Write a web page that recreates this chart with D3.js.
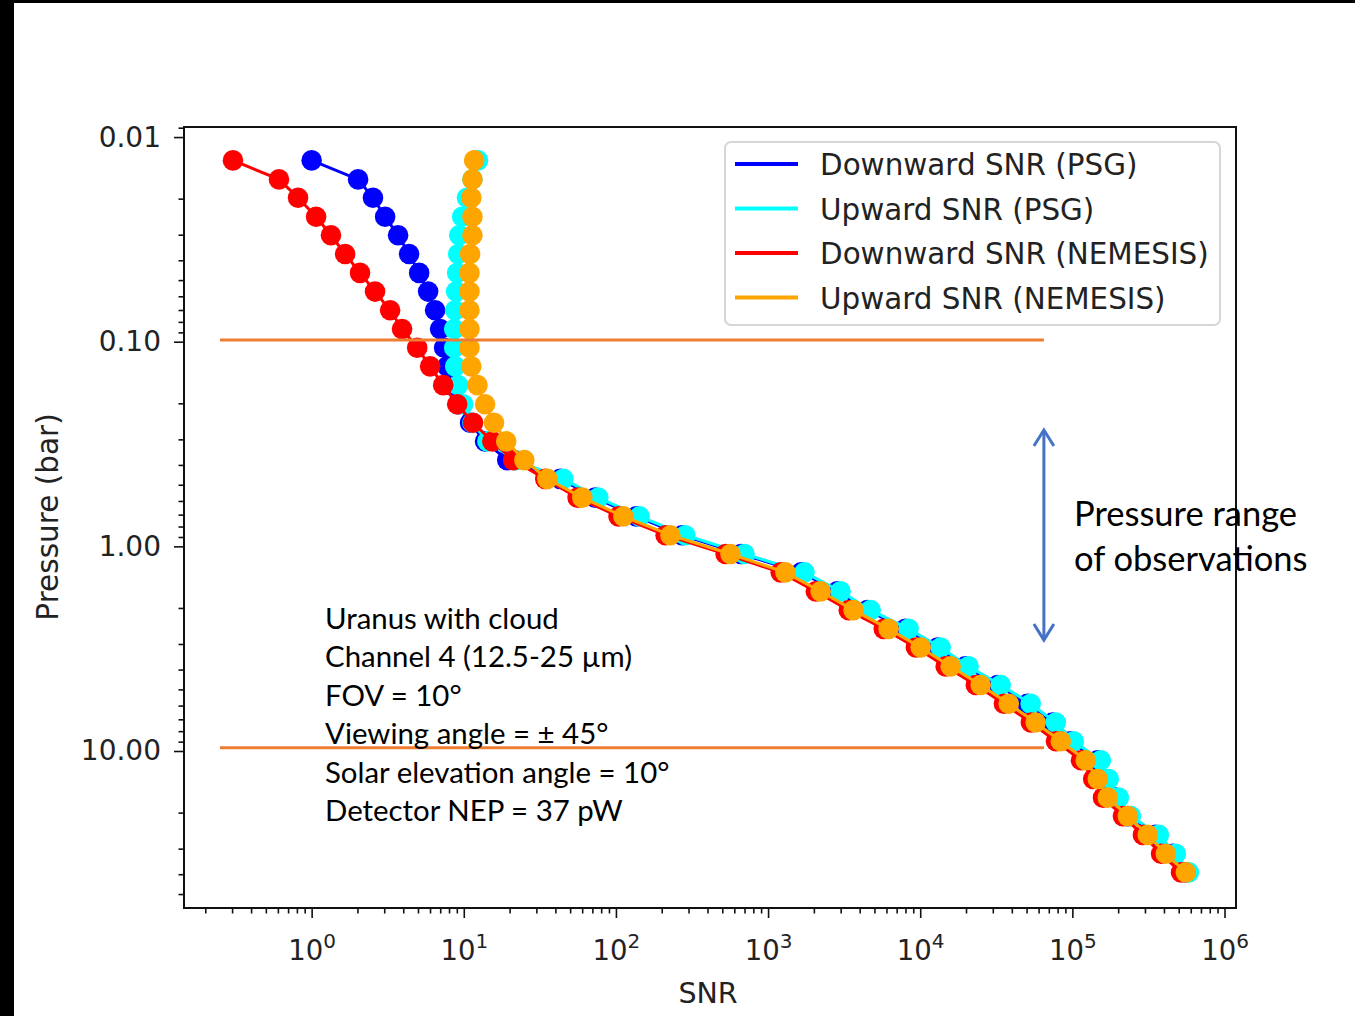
<!DOCTYPE html>
<html>
<head>
<meta charset="utf-8">
<script src="https://cdn.jsdelivr.net/npm/d3@7"></script>
<style>
  body { margin: 0; background: #fff; }
  svg { display: block; }
</style>
</head>
<body>
<svg></svg>
<script>
// Niveles de presion (bar), comunes a las cuatro curvas
var pressure = [0.0130, 0.0161, 0.0198, 0.0245, 0.0302, 0.0373, 0.0461, 0.0569, 0.0702, 0.0867,
                0.107, 0.132, 0.163, 0.202, 0.249, 0.307, 0.379, 0.468, 0.578, 0.714,
                0.882, 1.09, 1.34, 1.66, 2.05, 2.53, 3.12, 3.86, 4.76, 5.88,
                7.26, 8.96, 11.1, 13.7, 16.9, 20.8, 25.7, 31.8, 39.2];

// SNR de cada serie, un valor por nivel
var downPSG = [1.00, 2.02, 2.53, 3.04, 3.70, 4.37, 5.09, 5.83, 6.48, 6.99,
               7.43, 7.78, 8.26, 9.19, 11.0, 13.8, 19.3, 43, 73, 136,
               272, 665, 1650, 2850, 4500, 8000, 13000, 19800, 32200, 50700,
               74100, 97200, 146500, 165000, 192000, 231000, 352000, 456000, 555000];
var upPSG = [12.4, 11.4, 10.5, 9.76, 9.33, 9.19, 9.05, 8.91, 8.78, 8.65,
             8.65, 8.78, 9.19, 9.91, 11.4, 14.3, 21.8, 45.1, 76.6, 143,
             286, 700, 1735, 2994, 4721, 8390, 13620, 20800, 33810, 53230,
             77800, 102100, 153800, 173500, 201800, 242300, 370000, 478600, 583000];
var downNEM = [0.304, 0.610, 0.814, 1.07, 1.34, 1.66, 2.08, 2.61, 3.28, 3.93,
               4.94, 6.01, 7.32, 9.05, 11.5, 15.4, 21.1, 34.3, 56, 104,
               212, 526, 1210, 2060, 3390, 5760, 9370, 14700, 23200, 35500,
               53400, 78000, 114000, 137000, 159000, 215000, 291000, 383000, 518000];
var upNEM = [11.7, 11.4, 11.2, 11.4, 11.4, 11.0, 10.9, 10.9, 10.9, 10.9,
             10.9, 11.2, 12.3, 13.8, 15.8, 19.0, 25.0, 35.4, 60.1, 112,
             228, 566, 1300, 2213, 3647, 6194, 10070, 15850, 24960, 38180,
             57420, 83900, 122500, 146900, 171000, 231300, 313300, 411400, 557200];

var seriesNames = ["Downward SNR (PSG)", "Upward SNR (PSG)", "Downward SNR (NEMESIS)", "Upward SNR (NEMESIS)"];
var seriesColors = ["#0000ff", "#00ffff", "#ff0000", "#ffa500"];
var seriesValues = [downPSG, upPSG, downNEM, upNEM];

// Ticks
var xExponents = [0, 1, 2, 3, 4, 5, 6];
var yTickValues = [0.01, 0.1, 1, 10];
var yTickLabels = ["0.01", "0.10", "1.00", "10.00"];

// Anotaciones sobre la figura
var rangeLinePressure = [0.098, 9.65];
var rangeLineSNR = [0.25, 65000];
var arrowPressure = [0.27, 2.87];
var noteLines = ["Uranus with cloud", "Channel 4 (12.5-25 \u00b5m)", "FOV = 10\u00b0",
                 "Viewing angle = \u00b1 45\u00b0", "Solar elevation angle = 10\u00b0", "Detector NEP = 37 pW"];
var rangeNote = ["Pressure range", "of observations"];

// Dimensiones
var W = 1355, H = 1016;
var plot = { left: 184, right: 1236, top: 127, bottom: 908 };

var svg = d3.select("svg")
    .attr("width", W)
    .attr("height", H);

svg.append("rect").attr("width", W).attr("height", H).attr("fill", "#fff");

var x = d3.scaleLog()
    .domain([0.1449, 1.19e6])
    .range([plot.left, plot.right]);

var y = d3.scaleLog()
    .domain([0.00893, 58.5])
    .range([plot.top, plot.bottom]);

var tickFont = "'DejaVu Sans', sans-serif";
var textColor = "#222";

// minor ticks
var xMinor = [];
d3.range(-1, 7).forEach(function(e) {
  d3.range(2, 10).forEach(function(k) {
    var v = k * Math.pow(10, e);
    if (v > x.domain()[0] && v < x.domain()[1]) xMinor.push(v);
  });
});
var yMinor = [];
d3.range(-3, 2).forEach(function(e) {
  d3.range(2, 10).forEach(function(k) {
    var v = k * Math.pow(10, e);
    if (v > y.domain()[0] && v < y.domain()[1]) yMinor.push(v);
  });
});

var xMajorAxis = svg.append("g")
    .attr("transform", "translate(0," + plot.bottom + ")")
    .call(d3.axisBottom(x).tickValues(xExponents.map(function(e) { return Math.pow(10, e); }))
          .tickSize(10).tickFormat(""));
var xMinorAxis = svg.append("g")
    .attr("transform", "translate(0," + plot.bottom + ")")
    .call(d3.axisBottom(x).tickValues(xMinor).tickSize(5.5).tickFormat(""));
var yMajorAxis = svg.append("g")
    .attr("transform", "translate(" + plot.left + ",0)")
    .call(d3.axisLeft(y).tickValues(yTickValues).tickSize(10)
          .tickFormat(function(d, i) { return yTickLabels[i]; }));
var yMinorAxis = svg.append("g")
    .attr("transform", "translate(" + plot.left + ",0)")
    .call(d3.axisLeft(y).tickValues(yMinor).tickSize(5.5).tickFormat(""));

[xMajorAxis, xMinorAxis, yMajorAxis, yMinorAxis].forEach(function(g) {
  g.select(".domain").remove();
  g.selectAll(".tick line").attr("stroke", "#111").attr("stroke-width", 1.6);
});

yMajorAxis.selectAll(".tick text")
    .attr("x", -23)
    .attr("font-family", tickFont)
    .attr("font-size", 28)
    .attr("fill", textColor);

// etiquetas 10^n del eje x
xMajorAxis.selectAll(".tick").each(function(d, i) {
  var t = d3.select(this).append("text")
      .attr("y", 52)
      .attr("text-anchor", "middle")
      .attr("font-family", tickFont)
      .attr("font-size", 27.5)
      .attr("fill", textColor);
  t.append("tspan").text("10");
  t.append("tspan").attr("dy", -12).attr("font-size", 20).text(xExponents[i]);
});

// etiquetas de los ejes
svg.append("text")
    .attr("x", (plot.left + plot.right) / 2 - 2)
    .attr("y", 1003)
    .attr("text-anchor", "middle")
    .attr("font-family", tickFont)
    .attr("font-size", 28.5)
    .attr("fill", textColor)
    .text("SNR");
svg.append("text")
    .attr("transform", "translate(58,517) rotate(-90)")
    .attr("text-anchor", "middle")
    .attr("font-family", tickFont)
    .attr("font-size", 29.5)
    .attr("fill", textColor)
    .text("Pressure (bar)");

// curvas con marcadores
svg.append("clipPath").attr("id", "clip")
  .append("rect")
    .attr("x", plot.left).attr("y", plot.top)
    .attr("width", plot.right - plot.left).attr("height", plot.bottom - plot.top);

var line = d3.line()
    .x(function(d) { return x(d.snr); })
    .y(function(d) { return y(d.p); });

var plotArea = svg.append("g").attr("clip-path", "url(#clip)");

seriesValues.forEach(function(vals, s) {
  var pts = vals.map(function(v, i) { return { snr: v, p: pressure[i] }; });
  var g = plotArea.append("g");
  g.append("path")
      .datum(pts)
      .attr("d", line)
      .attr("fill", "none")
      .attr("stroke", seriesColors[s])
      .attr("stroke-width", 3);
  g.selectAll("circle")
      .data(pts)
      .enter().append("circle")
      .attr("cx", function(d) { return x(d.snr); })
      .attr("cy", function(d) { return y(d.p); })
      .attr("r", 10.3)
      .attr("fill", seriesColors[s]);
});

// marco
svg.append("rect")
    .attr("x", plot.left).attr("y", plot.top)
    .attr("width", plot.right - plot.left).attr("height", plot.bottom - plot.top)
    .attr("fill", "none")
    .attr("stroke", "#111")
    .attr("stroke-width", 2);

// leyenda
var legend = svg.append("g").attr("transform", "translate(725,142)");
legend.append("rect")
    .attr("width", 495).attr("height", 183)
    .attr("rx", 6)
    .attr("fill", "#fff").attr("fill-opacity", 0.8)
    .attr("stroke", "#d6d6d6").attr("stroke-width", 2);
seriesNames.forEach(function(name, i) {
  var ly = 22 + i * 44.5;
  legend.append("line")
      .attr("x1", 10).attr("x2", 73)
      .attr("y1", ly).attr("y2", ly)
      .attr("stroke", seriesColors[i])
      .attr("stroke-width", 4);
  legend.append("text")
      .attr("x", 95).attr("y", ly + 11)
      .attr("font-family", tickFont)
      .attr("font-size", 29.4)
      .attr("fill", textColor)
      .text(name);
});

// lineas del rango de presion (anotacion)
var officeOrange = "#ed7d31", officeBlue = "#4472c4";
rangeLinePressure.forEach(function(p) {
  svg.append("line")
      .attr("x1", x(rangeLineSNR[0])).attr("x2", x(rangeLineSNR[1]))
      .attr("y1", y(p)).attr("y2", y(p))
      .attr("stroke", officeOrange)
      .attr("stroke-width", 3);
});

// flecha doble
var ax = x(rangeLineSNR[1]), ay1 = y(arrowPressure[0]), ay2 = y(arrowPressure[1]);
svg.append("line")
    .attr("x1", ax).attr("x2", ax).attr("y1", ay1 + 1).attr("y2", ay2 - 1)
    .attr("stroke", officeBlue).attr("stroke-width", 3);
svg.append("path")
    .attr("d", "M" + (ax - 10) + "," + (ay1 + 16) + "L" + ax + "," + ay1 + "L" + (ax + 10) + "," + (ay1 + 16) +
               "M" + (ax - 10) + "," + (ay2 - 16) + "L" + ax + "," + ay2 + "L" + (ax + 10) + "," + (ay2 - 16))
    .attr("fill", "none")
    .attr("stroke", officeBlue).attr("stroke-width", 3)
    .attr("stroke-linejoin", "miter");

// textos de anotacion
var noteFont = "Lato, 'Open Sans', sans-serif";
noteLines.forEach(function(t, i) {
  svg.append("text")
      .attr("x", 325).attr("y", 629 + i * 38.4)
      .attr("font-family", noteFont)
      .attr("font-size", 29.4)
      .attr("fill", "#000")
      .text(t);
});
rangeNote.forEach(function(t, i) {
  svg.append("text")
      .attr("x", 1074).attr("y", 526 + i * 45)
      .attr("font-family", noteFont)
      .attr("font-size", 34.5)
      .attr("fill", "#000")
      .text(t);
});

// borde negro de la captura
svg.append("rect").attr("x", 0).attr("y", 0).attr("width", W).attr("height", 3).attr("fill", "#000");
svg.append("rect").attr("x", 0).attr("y", 0).attr("width", 14).attr("height", H).attr("fill", "#000");
</script>
</body>
</html>
